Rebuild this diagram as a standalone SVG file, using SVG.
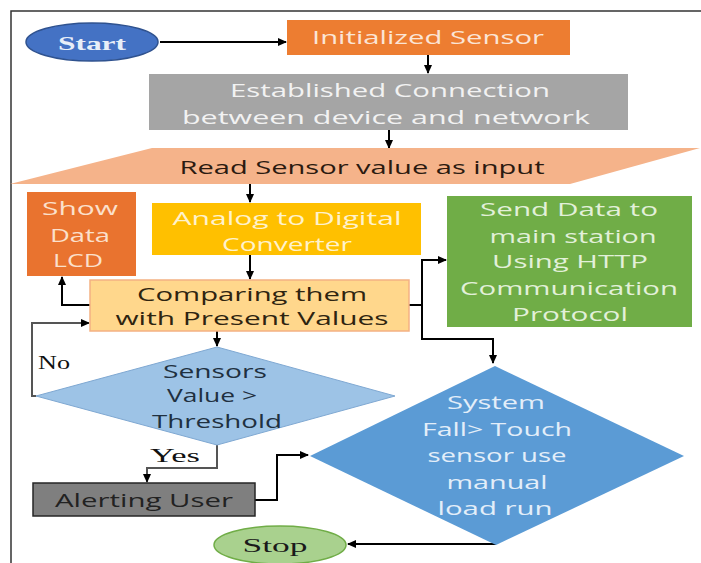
<svg xmlns="http://www.w3.org/2000/svg" width="701" height="563" viewBox="0 0 701 563">
<defs>
<marker id="ah" markerWidth="9" markerHeight="8" refX="8" refY="4" orient="auto" markerUnits="userSpaceOnUse">
<path d="M0,0 L9,4 L0,8 z" fill="#000"/>
</marker>
</defs>
<style>
text{font-family:"Open Sans","Liberation Sans",sans-serif;font-size:19px;text-anchor:middle}
.serif{font-family:"Liberation Serif","Times New Roman",serif}
.sm{font-size:18px}
.conn{fill:none;stroke:#000;stroke-width:2}
.gray{stroke:#555}
</style>
<rect width="701" height="563" fill="#fff"/>
<path d="M11,563 V11 H701" fill="none" stroke="#333" stroke-width="1.5"/>

<g id="connectors">
<path class="conn" d="M160,42 H286" marker-end="url(#ah)"/>
<path class="conn" d="M428,55 V73" marker-end="url(#ah)"/>
<path class="conn" d="M389,130 V148" marker-end="url(#ah)"/>
<path class="conn" d="M250,184 V202" marker-end="url(#ah)"/>
<path class="conn" d="M250,255 V279" marker-end="url(#ah)"/>
<path class="conn" d="M90,305 H62 V277" marker-end="url(#ah)"/>
<path class="conn" d="M409,305 H422 V260 H446" marker-end="url(#ah)"/>
<path class="conn" d="M422,305 V339 H493 V363" marker-end="url(#ah)"/>
<path class="conn" d="M217,331 V346" marker-end="url(#ah)"/>
<path class="conn gray" d="M36,396 H32 V323 H89" marker-end="url(#ah)" stroke-width="2.5"/>
<path class="conn gray" d="M217,445 V468 H147 V482" marker-end="url(#ah)" stroke-width="2.5"/>
<path class="conn" d="M255,500 H277 V455 H308" marker-end="url(#ah)"/>
<path class="conn" d="M496,544 H348" marker-end="url(#ah)"/>
</g>

<g id="start">
<ellipse cx="92" cy="42" rx="66" ry="19" fill="#4472C4" stroke="#2F528F" stroke-width="1.5"/>
<text class="serif" x="92" y="50" font-weight="bold" fill="#E8EEF8" font-size="22" textLength="68" lengthAdjust="spacingAndGlyphs">Start</text>
</g>

<g id="init">
<rect x="287" y="20" width="283" height="35" fill="#ED7D31"/>
<text x="428" y="44" fill="#FBE5D6" textLength="232" lengthAdjust="spacingAndGlyphs">Initialized Sensor</text>
</g>

<g id="establish">
<rect x="149" y="74" width="479" height="56" fill="#A5A5A5"/>
<text x="390" y="97" fill="#F2F2F2" textLength="320" lengthAdjust="spacingAndGlyphs">Established Connection</text>
<text x="386" y="124" fill="#F2F2F2" textLength="408" lengthAdjust="spacingAndGlyphs">between device and network</text>
</g>

<g id="read">
<polygon points="152,148 700,148 570,184 10,184" fill="#F5B38A"/>
<text x="362" y="174" fill="#2B1A10" textLength="365" lengthAdjust="spacingAndGlyphs">Read Sensor value as input</text>
</g>

<g id="lcd">
<rect x="27" y="192" width="109" height="84" fill="#E9732F"/>
<text x="80" y="215" fill="#FBE0CC" textLength="76" lengthAdjust="spacingAndGlyphs">Show</text>
<text x="80" y="242" fill="#FBE0CC" textLength="60" lengthAdjust="spacingAndGlyphs">Data</text>
<text x="78" y="267" fill="#FBE0CC" textLength="50" lengthAdjust="spacingAndGlyphs">LCD</text>
</g>

<g id="adc">
<rect x="152" y="203" width="269" height="52" fill="#FFC000"/>
<text x="287" y="225" fill="#FFF2CC" textLength="229" lengthAdjust="spacingAndGlyphs">Analog to Digital</text>
<text x="287" y="251" fill="#FFF2CC" textLength="130" lengthAdjust="spacingAndGlyphs">Converter</text>
</g>

<g id="compare">
<rect x="90" y="280" width="319" height="51" fill="#FFD78C" stroke="#F4B183" stroke-width="1.5"/>
<text class="sm" x="252" y="301" fill="#2E2410" textLength="230" lengthAdjust="spacingAndGlyphs">Comparing them</text>
<text class="sm" x="252" y="325" fill="#2E2410" textLength="273" lengthAdjust="spacingAndGlyphs">with Present Values</text>
</g>

<g id="send">
<rect x="447" y="196" width="245" height="131" fill="#70AD47"/>
<text x="569" y="216" fill="#E2F0D9" textLength="178" lengthAdjust="spacingAndGlyphs">Send Data to</text>
<text x="573" y="243" fill="#E2F0D9" textLength="167" lengthAdjust="spacingAndGlyphs">main station</text>
<text x="570" y="268" fill="#E2F0D9" textLength="156" lengthAdjust="spacingAndGlyphs">Using HTTP</text>
<text x="569" y="295" fill="#E2F0D9" textLength="218" lengthAdjust="spacingAndGlyphs">Communication</text>
<text x="570" y="321" fill="#E2F0D9" textLength="116" lengthAdjust="spacingAndGlyphs">Protocol</text>
</g>

<g id="threshold">
<polygon points="217,347 395,396 217,445 36,396" fill="#9DC3E6" stroke="#7FA8D2" stroke-width="1"/>
<text class="sm" x="215" y="378" fill="#1F3040" textLength="104" lengthAdjust="spacingAndGlyphs">Sensors</text>
<text class="sm" x="212" y="402" fill="#1F3040" textLength="90" lengthAdjust="spacingAndGlyphs">Value &gt;</text>
<text class="sm" x="217" y="428" fill="#1F3040" textLength="130" lengthAdjust="spacingAndGlyphs">Threshold</text>
</g>

<text class="serif" x="54" y="369" fill="#111" font-size="21" textLength="32" lengthAdjust="spacingAndGlyphs">No</text>
<text class="serif" x="175" y="462" fill="#111" font-size="21" textLength="50" lengthAdjust="spacingAndGlyphs">Yes</text>

<g id="alert">
<rect x="33" y="483" width="222" height="33" fill="#7F7F7F" stroke="#262626" stroke-width="1.5"/>
<text x="144" y="507" fill="#222" textLength="178" lengthAdjust="spacingAndGlyphs">Alerting User</text>
</g>

<g id="system">
<polygon points="495,366 684,456 496,545 310,456" fill="#5B9BD5"/>
<text x="496" y="409" fill="#E3EEF9" textLength="98" lengthAdjust="spacingAndGlyphs">System</text>
<text x="497" y="436" fill="#E3EEF9" textLength="150" lengthAdjust="spacingAndGlyphs">Fall&gt; Touch</text>
<text x="497" y="462" fill="#E3EEF9" textLength="139" lengthAdjust="spacingAndGlyphs">sensor use</text>
<text x="497" y="489" fill="#E3EEF9" textLength="101" lengthAdjust="spacingAndGlyphs">manual</text>
<text x="495" y="515" fill="#E3EEF9" textLength="115" lengthAdjust="spacingAndGlyphs">load run</text>
</g>

<g id="stop">
<ellipse cx="280" cy="545" rx="66" ry="19" fill="#A9D18E" stroke="#70AD47" stroke-width="1.5"/>
<text class="serif" x="275" y="552" fill="#1A1A1A" font-size="22" textLength="65" lengthAdjust="spacingAndGlyphs">Stop</text>
</g>
</svg>
